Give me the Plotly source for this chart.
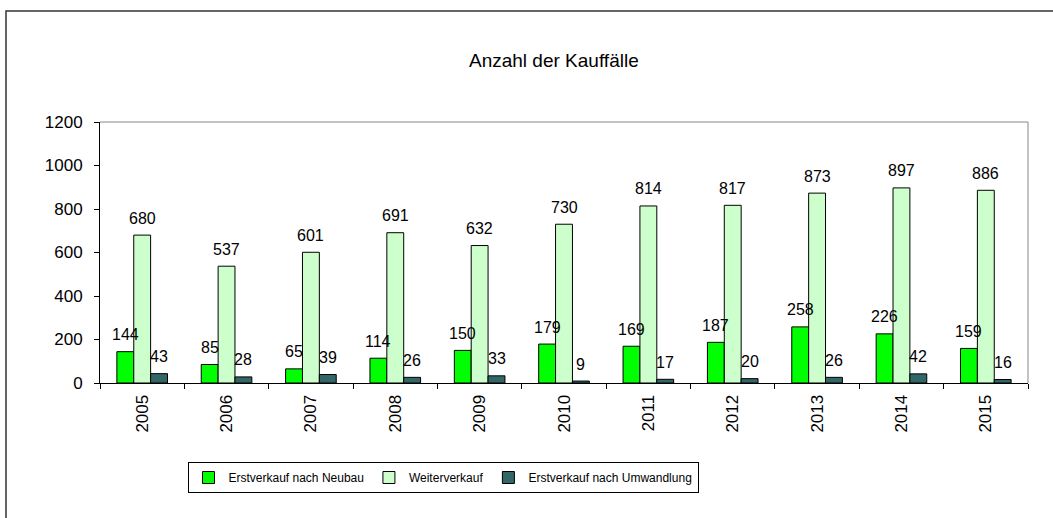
import plotly.graph_objects as go

years = ["2005", "2006", "2007", "2008", "2009", "2010", "2011", "2012", "2013", "2014", "2015"]
neubau = [144, 85, 65, 114, 150, 179, 169, 187, 258, 226, 159]
weiter = [680, 537, 601, 691, 632, 730, 814, 817, 873, 897, 886]
umwandlung = [43, 28, 39, 26, 33, 9, 17, 20, 26, 42, 16]
series_names = ["Erstverkauf nach Neubau", "Weiterverkauf", "Erstverkauf nach Umwandlung"]
colors = ["#00FF00", "#CCFFCC", "#336666"]

font = "Liberation Sans, Arial, sans-serif"
W, H = 1053, 518
L, R, T, B = 100, 25, 122, 135
pw, ph = W - L - R, H - T - B
bargap = 0.4
cat_px = pw / len(years)
bar_px = cat_px * (1 - bargap) / 3

def px_x(x):
    return (x - L) / pw

def px_y(y):
    return (H - B - y) / ph

fig = go.Figure()
annotations = []
for i, (name, vals, col) in enumerate(zip(series_names, [neubau, weiter, umwandlung], colors)):
    fig.add_trace(go.Bar(
        x=years, y=vals, name=name,
        marker=dict(color=col, line=dict(color="black", width=1)),
    ))
    for j, v in enumerate(vals):
        annotations.append(dict(
            x=j, y=v, xref="x", yref="y", text=str(v), showarrow=False,
            xanchor="center", yanchor="middle", xshift=(i - 1) * bar_px, yshift=17,
            font=dict(family=font, size=16, color="black"),
        ))

annotations.append(dict(
    text="Anzahl der Kauffälle", x=px_x(554), y=px_y(60), xref="paper", yref="paper",
    showarrow=False, font=dict(family=font, size=19, color="black"),
    xanchor="center", yanchor="middle",
))

fig.update_layout(
    width=W, height=H,
    margin=dict(l=L, r=R, t=T, b=B, autoexpand=False),
    paper_bgcolor="white", plot_bgcolor="white",
    barmode="group", bargap=bargap, bargroupgap=0,
    showlegend=True,
    font=dict(family=font, size=16, color="black"),
    legend=dict(
        orientation="h", x=px_x(443), xanchor="center", y=px_y(462), yanchor="top",
        bordercolor="black", borderwidth=1, bgcolor="white",
        font=dict(family=font, size=12), itemwidth=30,
    ),
    xaxis=dict(
        type="category", range=[-0.5, len(years) - 0.5], tickangle=-90,
        showline=True, linecolor="black", linewidth=1,
        ticks="outside", ticklen=5, tickcolor="black", showgrid=False, automargin=False,
        tickson="boundaries", tickfont=dict(family=font, size=17), ticklabelstandoff=4,
    ),
    yaxis=dict(
        range=[0, 1200], dtick=200, showline=True, linecolor="black", linewidth=1,
        ticks="outside", ticklen=5, tickcolor="black", showgrid=False, zeroline=False,
        automargin=False, tickfont=dict(family=font, size=17), ticklabelstandoff=8,
    ),
    annotations=annotations,
    shapes=[
        dict(type="line", xref="paper", yref="paper", x0=0, x1=1, y0=1, y1=1,
             line=dict(color="#888888", width=1)),
        dict(type="line", xref="paper", yref="paper", x0=1, x1=1, y0=0, y1=1,
             line=dict(color="#888888", width=1)),
        dict(type="rect", xref="paper", yref="paper", x0=px_x(6), x1=px_x(1080),
             y0=px_y(560), y1=px_y(11), line=dict(color="#333333", width=1.5), layer="below"),
    ],
)

fig.write_html("out.html", config={"displayModeBar": False},
               post_script="document.body.style.margin='0px';")
